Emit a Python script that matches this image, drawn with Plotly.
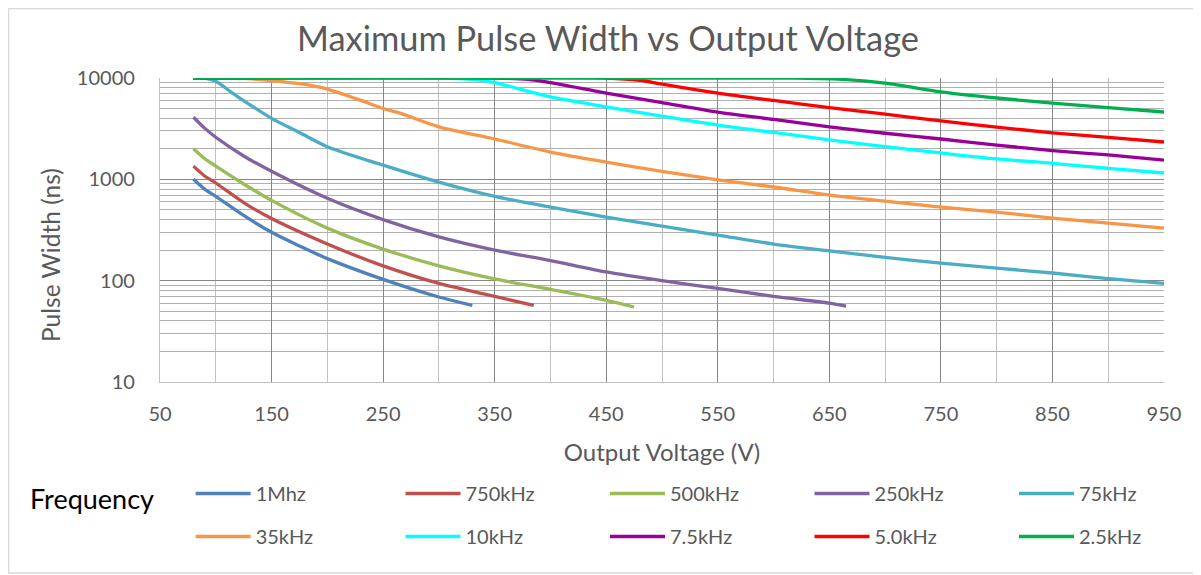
import plotly.graph_objects as go

# ---- data ----
series_names = ["1Mhz", "750kHz", "500kHz", "250kHz", "75kHz",
                "35kHz", "10kHz", "7.5kHz", "5.0kHz", "2.5kHz"]

v_1mhz = [80, 90, 100, 125, 150, 175, 200, 250, 300, 330]
pw_1mhz = [1000, 800, 680, 440, 300, 220, 165, 103, 69, 57]

v_750k = [80, 90, 100, 125, 150, 200, 250, 300, 350, 385]
pw_750k = [1350, 1080, 920, 590, 410, 230, 140, 94, 70, 57]

v_500k = [80, 90, 100, 125, 150, 200, 250, 300, 350, 400, 450, 475]
pw_500k = [2000, 1600, 1350, 900, 620, 330, 205, 140, 104, 82, 64, 55]

v_250k = [80, 90, 100, 125, 150, 200, 250, 300, 350, 400, 450, 500, 550, 600, 650, 665]
pw_250k = [4100, 3200, 2600, 1700, 1200, 650, 400, 270, 200, 158, 122, 100, 84, 70, 60, 56]

v_75k = [80, 90, 100, 115, 130, 150, 175, 200, 250, 300, 350, 400, 450, 500, 550,
         600, 650, 700, 750, 800, 850, 900, 950]
pw_75k = [10000, 10000, 9300, 7100, 5500, 4000, 2900, 2100, 1380, 940, 680, 533, 424,
          345, 282, 230, 197, 170, 149, 133, 119, 105, 94]

v_35k = [80, 125, 150, 175, 196, 225, 250, 265, 300, 350, 400, 450, 500, 550, 600,
         650, 700, 750, 800, 850, 900, 950]
pw_35k = [10000, 9900, 9400, 8800, 8000, 6300, 5000, 4500, 3300, 2500, 1860, 1480,
          1200, 990, 840, 700, 610, 533, 475, 415, 370, 330]

v_10k = [80, 300, 330, 350, 400, 450, 500, 550, 600, 650, 700, 750, 800, 850, 900, 950]
pw_10k = [10000, 10000, 9700, 9000, 6500, 5200, 4200, 3430, 2900, 2450, 2100, 1820,
          1590, 1440, 1280, 1154]

v_7_5k = [80, 350, 380, 400, 450, 500, 550, 600, 650, 700, 750, 800, 850, 900, 950]
pw_7_5k = [10000, 10000, 9700, 9000, 7100, 5700, 4600, 3900, 3300, 2850, 2500, 2180,
           1920, 1740, 1550]

v_5k = [80, 450, 480, 500, 550, 600, 650, 700, 750, 800, 850, 900, 950]
pw_5k = [10000, 10000, 9500, 8700, 7100, 6000, 5100, 4400, 3770, 3280, 2880, 2600, 2335]

v_2_5k = [80, 620, 653, 700, 750, 800, 850, 900, 950]
pw_2_5k = [10000, 10000, 9800, 8900, 7300, 6350, 5660, 5100, 4620]

x_ticks = [50, 150, 250, 350, 450, 550, 650, 750, 850, 950]
y_ticks = [10, 100, 1000, 10000]

series_x = [v_1mhz, v_750k, v_500k, v_250k, v_75k, v_35k, v_10k, v_7_5k, v_5k, v_2_5k]
series_y = [pw_1mhz, pw_750k, pw_500k, pw_250k, pw_75k, pw_35k, pw_10k, pw_7_5k, pw_5k, pw_2_5k]
colors = ["#4F81BD", "#C0504D", "#9BBB59", "#8064A2", "#4BACC6",
          "#F79646", "#00FFFF", "#990099", "#FF0000", "#00B050"]

# page body has an 8px margin, so the figure is sized to fit the window
W, H = 1193, 567
ml, mt = 152, 70
pw_px, ph_px = 1004, 304
mr = W - ml - pw_px
mb = H - mt - ph_px

legend_ids = ["legend", "legend2", "legend3", "legend4", "legend5"]

fig = go.Figure()
for i, (name, xs, ys, c) in enumerate(zip(series_names, series_x, series_y, colors)):
    fig.add_trace(go.Scatter(x=xs, y=ys, name=name, mode="lines",
                             legend=legend_ids[i % 5], legendgroup=name,
                             line=dict(color=c, width=3.3, shape="spline", smoothing=0.8)))

font_family = "Lato, Open Sans, sans-serif"
leg_y = -(507 - (mt + ph_px)) / ph_px
col_step = 204.5
leg_common = dict(orientation="v", xanchor="left", yanchor="middle", y=leg_y,
                  font=dict(size=20, color="#595959"), itemwidth=55,
                  tracegroupgap=14, bgcolor="rgba(0,0,0,0)")
legends = {}
for k, lid in enumerate(legend_ids):
    cfg = dict(leg_common)
    if k == 0:
        cfg["x"] = (20 - ml) / pw_px
        cfg["title"] = dict(text="Frequency" + "&nbsp;" * 4 + "&#8202;", side="left",
                            font=dict(size=27, color="black"))
    else:
        cfg["x"] = (193 + col_step * k - 5 - ml) / pw_px
    legends[lid] = cfg

fig.update_layout(
    width=W, height=H,
    margin=dict(l=ml, r=mr, t=mt, b=mb),
    paper_bgcolor="white", plot_bgcolor="white",
    font=dict(family=font_family, color="#595959"),
    title=dict(text="Maximum Pulse Width vs Output Voltage", x=(608 - 8 - ml) / pw_px,
               xref="paper", xanchor="center",
               y=1 - 31 / H, yanchor="middle", font=dict(size=34.4, color="#595959")),
    showlegend=True,
    xaxis=dict(range=[50, 950], tickvals=x_ticks, ticktext=[str(t) for t in x_ticks],
               showgrid=True, gridcolor="#878787", gridwidth=1.3,
               minor=dict(dtick=50, tick0=50, showgrid=True, gridcolor="#C0C0C0", gridwidth=1.3),
               showline=True, linecolor="#C0C0C0", linewidth=1.3, mirror=False,
               zeroline=False, ticks="", tickfont=dict(size=20, color="#595959"),
               ticklabelstandoff=14,
               title=dict(text="Output Voltage (V)", font=dict(size=24, color="#595959"),
                          standoff=20)),
    yaxis=dict(type="log", range=[1, 4], tickvals=y_ticks, ticktext=[str(t) for t in y_ticks],
               showgrid=True, gridcolor="#878787", gridwidth=1.3,
               minor=dict(dtick="D1", showgrid=True, gridcolor="#B0B0B0", gridwidth=1.3),
               showline=True, linecolor="#C0C0C0", linewidth=1.3,
               zeroline=False, ticks="", tickfont=dict(size=20, color="#595959"),
               ticklabelstandoff=20),
    annotations=[dict(text="Pulse Width (ns)", textangle=-90, showarrow=False,
                      xref="paper", yref="paper",
                      x=(42 - ml) / pw_px, y=1 - (247 - mt) / ph_px,
                      xanchor="center", yanchor="middle",
                      font=dict(size=24.5, color="#595959"))],
    shapes=[dict(type="rect", xref="paper", yref="paper",
                 x0=(0.5 - ml) / pw_px, x1=(1190 - ml) / pw_px,
                 y0=-(565 - (mt + ph_px)) / ph_px, y1=1 + (mt - 0.5) / ph_px,
                 line=dict(color="#D9D9D9", width=1.5), layer="below")],
    **legends,
)
fig.write_html("out.html")
